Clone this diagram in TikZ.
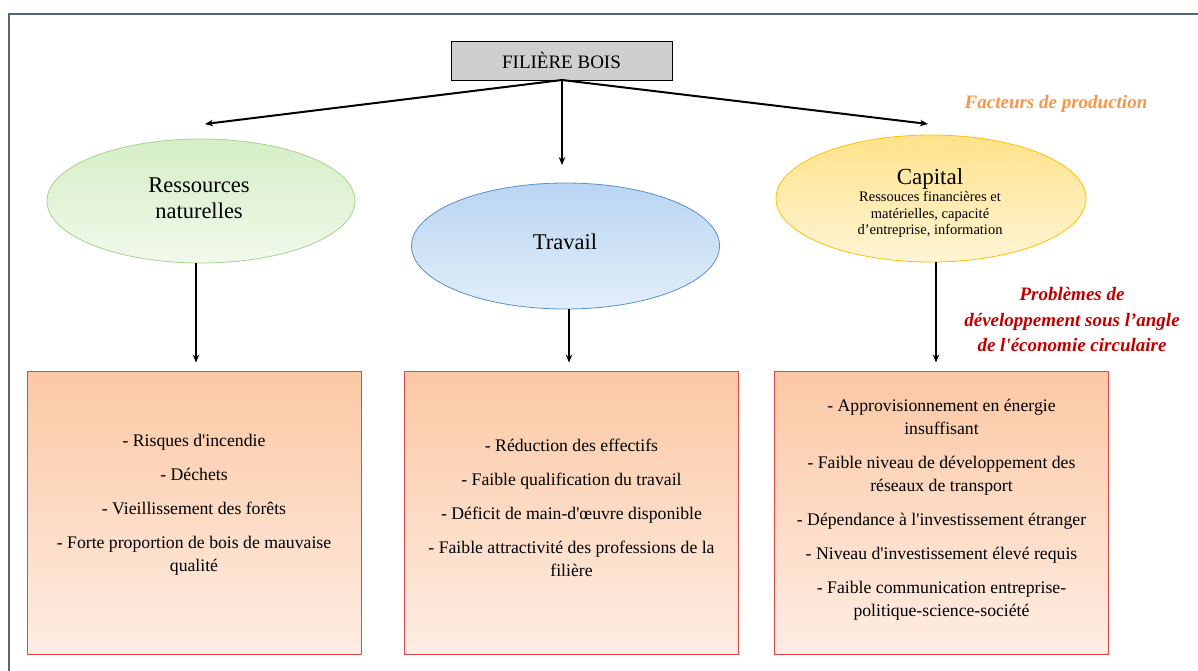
\documentclass[tikz,border=0pt]{standalone}
\usepackage{fontspec}
\setmainfont{Liberation Serif}[Ligatures=TeXOff]
\usetikzlibrary{shapes.geometric,arrows.meta}
\definecolor{framec}{HTML}{56657F}
\definecolor{boisgray}{HTML}{D0CECE}
\definecolor{gtop}{HTML}{D5EFC6}
\definecolor{gbot}{HTML}{F1F9EC}
\definecolor{gline}{HTML}{A9D18E}
\definecolor{btop}{HTML}{B9D5F2}
\definecolor{bbot}{HTML}{E2EEFA}
\definecolor{bline}{HTML}{5B8FC9}
\definecolor{ytop}{HTML}{FFE28A}
\definecolor{ybot}{HTML}{FFF5D6}
\definecolor{yline}{HTML}{FFC000}
\definecolor{rtop}{HTML}{FBC8A4}
\definecolor{rbot}{HTML}{FEEDE3}
\definecolor{rline}{HTML}{E0474C}
\definecolor{orangeT}{HTML}{F79646}
\definecolor{redT}{HTML}{C00000}
\tikzset{
  ell/.style={ellipse, minimum width=308pt, minimum height=124pt, line width=0.8pt, inner sep=0pt, align=center, font=\fontsize{22.5}{26}\selectfont},
  probbox/.style={rectangle, minimum width=334pt, minimum height=283pt, draw=rline, line width=1pt, top color=rtop, bottom color=rbot, inner sep=0pt},
  probtext/.style={align=center, inner sep=0pt, font=\fontsize{17.7}{23}\selectfont},
  arr/.style={-{Stealth[length=8pt,width=6.5pt]}, line width=1.2pt},
  thickarr/.style={-{Stealth[length=8pt,width=6.5pt]}, line width=2pt},
}
\begin{document}
\begin{tikzpicture}[x=1pt,y=-1pt]
\useasboundingbox (0,0) rectangle (1198,670);
\draw[framec, line width=2pt] (1220,13.5) -- (8.5,13.5) -- (8.5,690);

\node[draw=black, line width=0.8pt, fill=boisgray, minimum width=221pt, minimum height=39pt, inner sep=0pt, font=\fontsize{19}{21}\selectfont] (bois) at (561.5,60.5) {FILIÈRE BOIS};

\node[ell, draw=gline, top color=gtop, bottom color=gbot] (nat) at (201,201) {};
\node[align=center, font=\fontsize{22.5}{26}\selectfont] (natt) at (199,198) {Ressources\\naturelles};
\node[ell, draw=bline, top color=btop, bottom color=bbot, minimum height=126pt] (trav) at (565.5,246) {};
\node[font=\fontsize{22.5}{26}\selectfont] (travt) at (565,242) {Travail};
\node[ell, draw=yline, top color=ytop, bottom color=ybot, minimum width=310pt, minimum height=127pt] (cap) at (931,198.5) {};
\node[align=center, font=\fontsize{23}{25}\selectfont] (captitle) at (930,179) {Capital};
\node[align=center, font=\fontsize{14.5}{16.5}\selectfont, anchor=north] (capsub) at (930,188) {Ressouces financières et\\matérielles, capacité\\d’entreprise, information};

\node[font=\bfseries\itshape\fontsize{19}{22}\selectfont, text=orangeT] (fact) at (1056,104) {Facteurs de production};
\node[align=center, font=\bfseries\itshape\fontsize{19}{25.5}\selectfont, text=redT] (prob) at (1072,320) {Problèmes de\\développement sous l’angle\\de l'économie circulaire};

\node[probbox] (b1) at (194,512.5) {};
\node[probbox] (b2) at (571.5,512.5) {};
\node[probbox] (b3) at (941.5,512.5) {};
\node[probtext] (t1) at (194,505) {- Risques d'incendie\\[11pt]- Déchets\\[11pt]- Vieillissement des forêts\\[11pt]- Forte proportion de bois de mauvaise\\qualité};
\node[probtext] (t2) at (571.5,508) {- Réduction des effectifs\\[11pt]- Faible qualification du travail\\[11pt]- Déficit de main-d'œuvre disponible\\[11pt]- Faible attractivité des professions de la\\filière};
\node[probtext] (t3) at (941.5,509.5) {- Approvisionnement en énergie\\insuffisant\\[11pt]- Faible niveau de développement des\\réseaux de transport\\[11pt]- Dépendance à l'investissement étranger\\[11pt]- Niveau d'investissement élevé requis\\[11pt]- Faible communication entreprise-\\politique-science-société};

\coordinate (src) at (562,80);
\coordinate (natin) at (205,124);
\coordinate (capin) at (928,124);
\coordinate (travin) at (562,165);
\draw[thickarr] (src) -- (natin);
\draw[thickarr] (src) -- (capin);
\draw[arr] (src) -- (travin);

\draw[arr] ([xshift=-5pt]nat.south) -- ([xshift=2pt,yshift=8pt]b1.north);
\draw[arr] ([xshift=3.5pt]trav.south) -- ([xshift=-2.5pt,yshift=8pt]b2.north);
\draw[arr] ([xshift=5pt]cap.south) -- ([xshift=-5.5pt,yshift=8pt]b3.north);
\end{tikzpicture}
\end{document}
